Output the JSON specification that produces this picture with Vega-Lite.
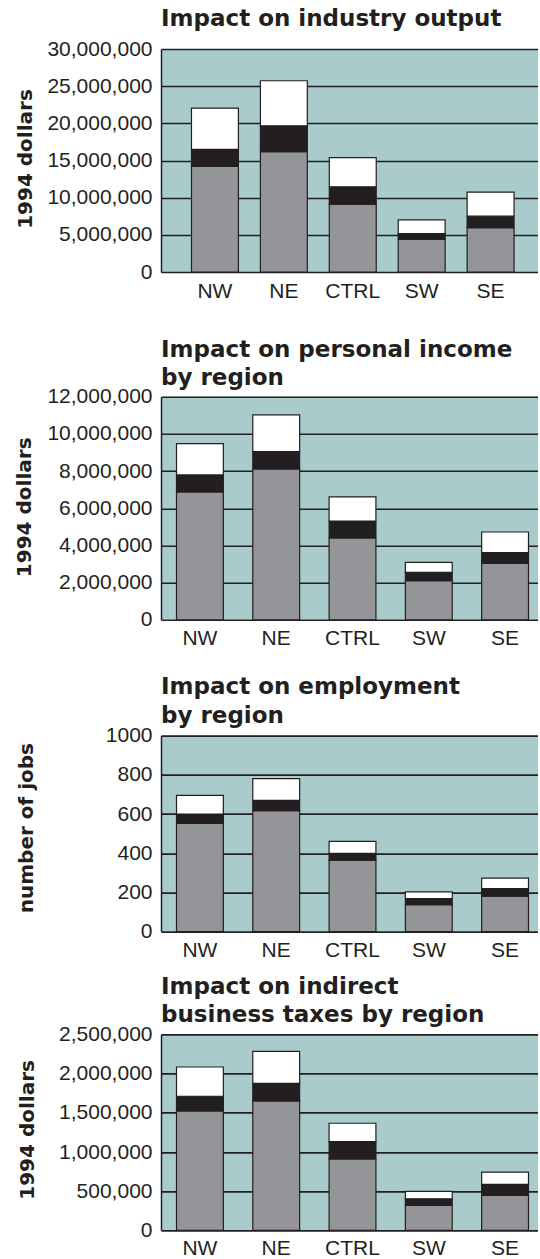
{
  "$schema": "https://vega.github.io/schema/vega-lite/v6.json",
  "padding": {"top": 8, "left": 14, "right": 0, "bottom": 0},
  "background": "white",
  "spacing": 14.8,
  "config": {
    "view": {"fill": "#a9cbcb", "stroke": null},
    "axis": {"labelFont": "Liberation Sans", "labelFontSize": 21, "labelColor": "#231f20", "titleFont": "DejaVu Sans", "titleFontWeight": "bold", "titleFontSize": 20, "titleColor": "#231f20"},
    "axisX": {"domain": false, "ticks": false, "tickSize": 0, "labelPadding": 8, "labelAngle": 0, "grid": false},
    "axisY": {"domain": true, "domainColor": "#231f20", "domainWidth": 1.5, "ticks": false, "tickSize": 0, "labelPadding": 9, "grid": true, "gridColor": "#231f20", "gridWidth": 1.6, "gridOpacity": 1, "titleAngle": -90, "titleBaseline": "alphabetic", "titleAlign": "center", "labelFlush": false, "labelOverlap": false, "labelBaseline": "middle"},
    "title": {"font": "DejaVu Sans", "fontWeight": "bold", "fontSize": 23, "color": "#231f20", "anchor": "start", "frame": "group", "baseline": "alphabetic", "lineHeight": 28.5},
    "bar": {"stroke": "#231f20", "strokeWidth": 1.2}
  },
  "datasets": {
    "output": [
      {"region": "NW", "effect": "Direct", "value": 14210000},
      {"region": "NW", "effect": "Indirect", "value": 2300000},
      {"region": "NW", "effect": "Induced", "value": 5530000},
      {"region": "NE", "effect": "Direct", "value": 16190000},
      {"region": "NE", "effect": "Indirect", "value": 3470000},
      {"region": "NE", "effect": "Induced", "value": 6070000},
      {"region": "CTRL", "effect": "Direct", "value": 9130000},
      {"region": "CTRL", "effect": "Indirect", "value": 2340000},
      {"region": "CTRL", "effect": "Induced", "value": 3910000},
      {"region": "SW", "effect": "Direct", "value": 4410000},
      {"region": "SW", "effect": "Indirect", "value": 760000},
      {"region": "SW", "effect": "Induced", "value": 1850000},
      {"region": "SE", "effect": "Direct", "value": 5980000},
      {"region": "SE", "effect": "Indirect", "value": 1530000},
      {"region": "SE", "effect": "Induced", "value": 3240000}
    ],
    "income": [
      {"region": "NW", "effect": "Direct", "value": 6880000},
      {"region": "NW", "effect": "Indirect", "value": 916000},
      {"region": "NW", "effect": "Induced", "value": 1689000},
      {"region": "NE", "effect": "Direct", "value": 8120000},
      {"region": "NE", "effect": "Indirect", "value": 934000},
      {"region": "NE", "effect": "Induced", "value": 1976000},
      {"region": "CTRL", "effect": "Direct", "value": 4401000},
      {"region": "CTRL", "effect": "Indirect", "value": 916000},
      {"region": "CTRL", "effect": "Induced", "value": 1294000},
      {"region": "SW", "effect": "Direct", "value": 2102000},
      {"region": "SW", "effect": "Indirect", "value": 449000},
      {"region": "SW", "effect": "Induced", "value": 539000},
      {"region": "SE", "effect": "Direct", "value": 3036000},
      {"region": "SE", "effect": "Indirect", "value": 575000},
      {"region": "SE", "effect": "Induced", "value": 1114000}
    ],
    "jobs": [
      {"region": "NW", "effect": "Direct", "value": 552},
      {"region": "NW", "effect": "Indirect", "value": 48},
      {"region": "NW", "effect": "Induced", "value": 95},
      {"region": "NE", "effect": "Direct", "value": 617},
      {"region": "NE", "effect": "Indirect", "value": 53},
      {"region": "NE", "effect": "Induced", "value": 110},
      {"region": "CTRL", "effect": "Direct", "value": 365},
      {"region": "CTRL", "effect": "Indirect", "value": 34},
      {"region": "CTRL", "effect": "Induced", "value": 61},
      {"region": "SW", "effect": "Direct", "value": 138},
      {"region": "SW", "effect": "Indirect", "value": 31},
      {"region": "SW", "effect": "Induced", "value": 34},
      {"region": "SE", "effect": "Direct", "value": 181},
      {"region": "SE", "effect": "Indirect", "value": 39},
      {"region": "SE", "effect": "Induced", "value": 53}
    ],
    "taxes": [
      {"region": "NW", "effect": "Direct", "value": 1524000},
      {"region": "NW", "effect": "Indirect", "value": 187000},
      {"region": "NW", "effect": "Induced", "value": 373000},
      {"region": "NE", "effect": "Direct", "value": 1651000},
      {"region": "NE", "effect": "Indirect", "value": 225000},
      {"region": "NE", "effect": "Induced", "value": 408000},
      {"region": "CTRL", "effect": "Direct", "value": 913000},
      {"region": "CTRL", "effect": "Indirect", "value": 220000},
      {"region": "CTRL", "effect": "Induced", "value": 234000},
      {"region": "SW", "effect": "Direct", "value": 318000},
      {"region": "SW", "effect": "Indirect", "value": 85000},
      {"region": "SW", "effect": "Induced", "value": 94000},
      {"region": "SE", "effect": "Direct", "value": 446000},
      {"region": "SE", "effect": "Indirect", "value": 140000},
      {"region": "SE", "effect": "Induced", "value": 157000}
    ]
  },
  "vconcat": [
    {
      "title": {"text": "Impact on industry output", "offset": 7},
      "width": 377, "height": 223,
      "data": {"name": "output"},
      "mark": {"type": "bar"},
      "encoding": {
        "x": {"field": "region", "type": "nominal", "sort": ["NW", "NE", "CTRL", "SW", "SE"], "scale": {"paddingInner": 0.319, "paddingOuter": 0.395, "align": 0.56}, "axis": {"title": " ", "titleFontSize": 1, "titlePadding": 21.3}},
        "y": {"field": "value", "type": "quantitative", "stack": "zero", "scale": {"domain": [0, 30000000], "nice": false}, "axis": {"title": "1994 dollars", "values": [0, 5000000, 10000000, 15000000, 20000000, 25000000, 30000000], "format": ",d", "titleX": -129.5, "titleY": 109.5}},
        "color": {"field": "effect", "type": "nominal", "scale": {"domain": ["Direct", "Indirect", "Induced"], "range": ["#939598", "#231f20", "#ffffff"]}, "legend": null},
        "order": {"field": "effect", "type": "ordinal", "sort": "ascending"}
      }
    },
    {
      "title": {"text": ["Impact on personal income", "by region"], "offset": -4.5},
      "width": 377, "height": 223,
      "data": {"name": "income"},
      "mark": {"type": "bar"},
      "encoding": {
        "x": {"field": "region", "type": "nominal", "sort": ["NW", "NE", "CTRL", "SW", "SE"], "scale": {"paddingInner": 0.386, "paddingOuter": 0.164, "align": 0.62}, "axis": {"title": " ", "titleFontSize": 1, "titlePadding": 10.7}},
        "y": {"field": "value", "type": "quantitative", "stack": "zero", "scale": {"domain": [0, 12000000], "nice": false}, "axis": {"title": "1994 dollars", "values": [0, 2000000, 4000000, 6000000, 8000000, 10000000, 12000000], "format": ",d", "titleX": -130.5, "titleY": 110}},
        "color": {"field": "effect", "type": "nominal", "scale": {"domain": ["Direct", "Indirect", "Induced"], "range": ["#939598", "#231f20", "#ffffff"]}, "legend": null},
        "order": {"field": "effect", "type": "ordinal", "sort": "ascending"}
      }
    },
    {
      "title": {"text": ["Impact on employment", "by region"], "offset": -3.1},
      "width": 377, "height": 196,
      "data": {"name": "jobs"},
      "mark": {"type": "bar"},
      "encoding": {
        "x": {"field": "region", "type": "nominal", "sort": ["NW", "NE", "CTRL", "SW", "SE"], "scale": {"paddingInner": 0.386, "paddingOuter": 0.164, "align": 0.62}, "axis": {"title": null}},
        "y": {"field": "value", "type": "quantitative", "stack": "zero", "scale": {"domain": [0, 1000], "nice": false}, "axis": {"title": "number of jobs", "values": [0, 200, 400, 600, 800, 1000], "format": "d", "titleX": -129, "titleY": 92}},
        "color": {"field": "effect", "type": "nominal", "scale": {"domain": ["Direct", "Indirect", "Induced"], "range": ["#939598", "#231f20", "#ffffff"]}, "legend": null},
        "order": {"field": "effect", "type": "ordinal", "sort": "ascending"}
      }
    },
    {
      "title": {"text": ["Impact on indirect", "business taxes by region"], "offset": -3.8},
      "width": 377, "height": 196,
      "data": {"name": "taxes"},
      "mark": {"type": "bar"},
      "encoding": {
        "x": {"field": "region", "type": "nominal", "sort": ["NW", "NE", "CTRL", "SW", "SE"], "scale": {"paddingInner": 0.386, "paddingOuter": 0.164, "align": 0.62}, "axis": {"title": null, "labelPadding": 7}},
        "y": {"field": "value", "type": "quantitative", "stack": "zero", "scale": {"domain": [0, 2500000], "nice": false}, "axis": {"title": "1994 dollars", "values": [0, 500000, 1000000, 1500000, 2000000, 2500000], "format": ",d", "titleX": -128, "titleY": 95}},
        "color": {"field": "effect", "type": "nominal", "scale": {"domain": ["Direct", "Indirect", "Induced"], "range": ["#939598", "#231f20", "#ffffff"]}, "legend": null},
        "order": {"field": "effect", "type": "ordinal", "sort": "ascending"}
      }
    }
  ]
}
